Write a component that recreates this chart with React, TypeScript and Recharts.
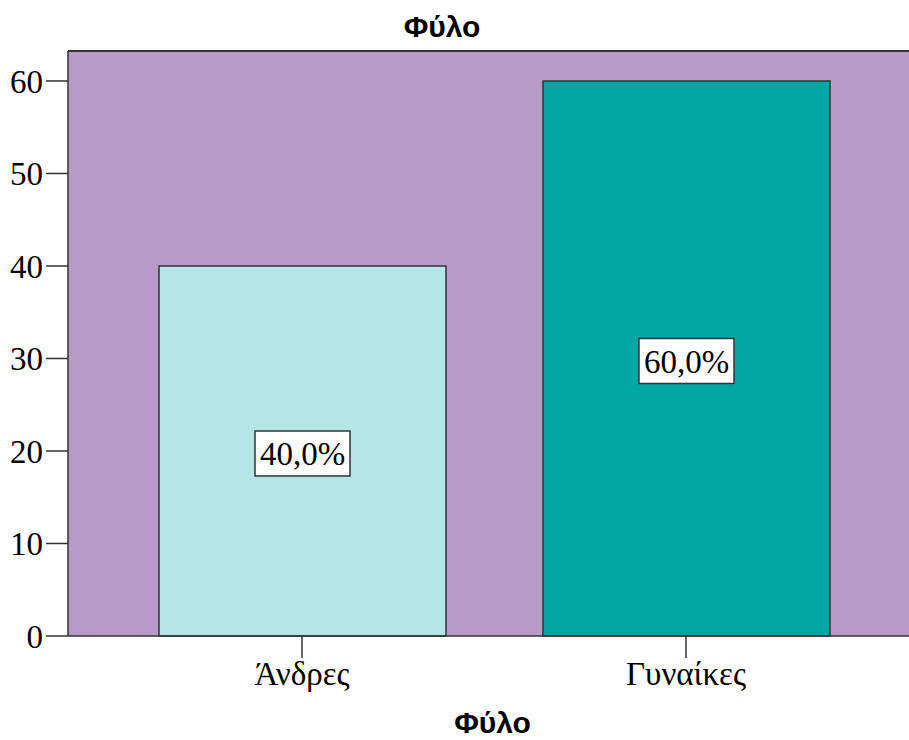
import { BarChart, Bar, XAxis, YAxis, CartesianGrid, Cell, LabelList, ReferenceLine } from "recharts";

const categories = ["Άνδρες", "Γυναίκες"];
const counts = [40, 60];
const yTicks = [0, 10, 20, 30, 40, 50, 60];
const barColors = ["#B4E6E6", "#00A6A3"];

const total = counts.reduce((a, b) => a + b, 0);
const data = categories.map((name, i) => ({
  name,
  value: counts[i],
  pct: ((counts[i] / total) * 100).toFixed(1).replace(".", ",") + "%",
}));

const serif = "'Liberation Serif', 'Times New Roman', serif";
const sans = "'Liberation Sans', Arial, sans-serif";
const Y_TOP = 63.24;

function PctLabel(props: any) {
  const { x, y, width, height, value } = props;
  const cx = x + width / 2;
  const cy = y + height / 2 + 2.5;
  const w = 95;
  const h = 45;
  return (
    <g>
      <rect x={cx - w / 2} y={cy - h / 2} width={w} height={h} fill="#fff" stroke="#333" strokeWidth={1.5} />
      <text x={cx} y={cy + 1} textAnchor="middle" dominantBaseline="central" fontFamily={serif} fontSize={33} fill="#000">
        {value}
      </text>
    </g>
  );
}

export default function App() {
  return (
    <div style={{ position: "absolute", left: 0, top: 0, width: 909, height: 740, overflow: "hidden", background: "#fff" }}>
      <div style={{ position: "absolute", top: 10, left: 0, width: 884, textAlign: "center", fontFamily: sans, fontWeight: "bold", fontSize: 30 }}>
        Φύλο
      </div>
      <BarChart width={909} height={740} data={data} margin={{ top: 51, right: 0, left: 0, bottom: 0 }}>
        <CartesianGrid fill="#B79AC8" horizontal={false} vertical={false} />
        <XAxis
          dataKey="name"
          height={104}
          padding={{ left: 42, right: 31 }}
          tickSize={22}
          tickLine={{ stroke: "#333", strokeWidth: 1.5 }}
          axisLine={{ stroke: "#333", strokeWidth: 1.5 }}
          tick={{ fontFamily: serif, fontSize: 33, fill: "#000" }}
          tickMargin={4}
        />
        <YAxis
          width={68}
          domain={[0, Y_TOP]}
          ticks={yTicks}
          tickSize={22}
          tickLine={{ stroke: "#333", strokeWidth: 1.5 }}
          axisLine={{ stroke: "#333", strokeWidth: 1.5 }}
          tick={{ fontFamily: serif, fontSize: 33, fill: "#000" }}
          tickMargin={3}
        />
        <ReferenceLine y={Y_TOP} stroke="#333" strokeWidth={2} />
        <Bar dataKey="value" barSize={287} stroke="#333" strokeWidth={1.5} isAnimationActive={false}>
          {data.map((d, i) => (
            <Cell key={d.name} fill={barColors[i]} />
          ))}
          <LabelList dataKey="pct" content={<PctLabel />} />
        </Bar>
      </BarChart>
      <div style={{ position: "absolute", top: 706, left: 72, width: 841, textAlign: "center", fontFamily: sans, fontWeight: "bold", fontSize: 30 }}>
        Φύλο
      </div>
    </div>
  );
}
